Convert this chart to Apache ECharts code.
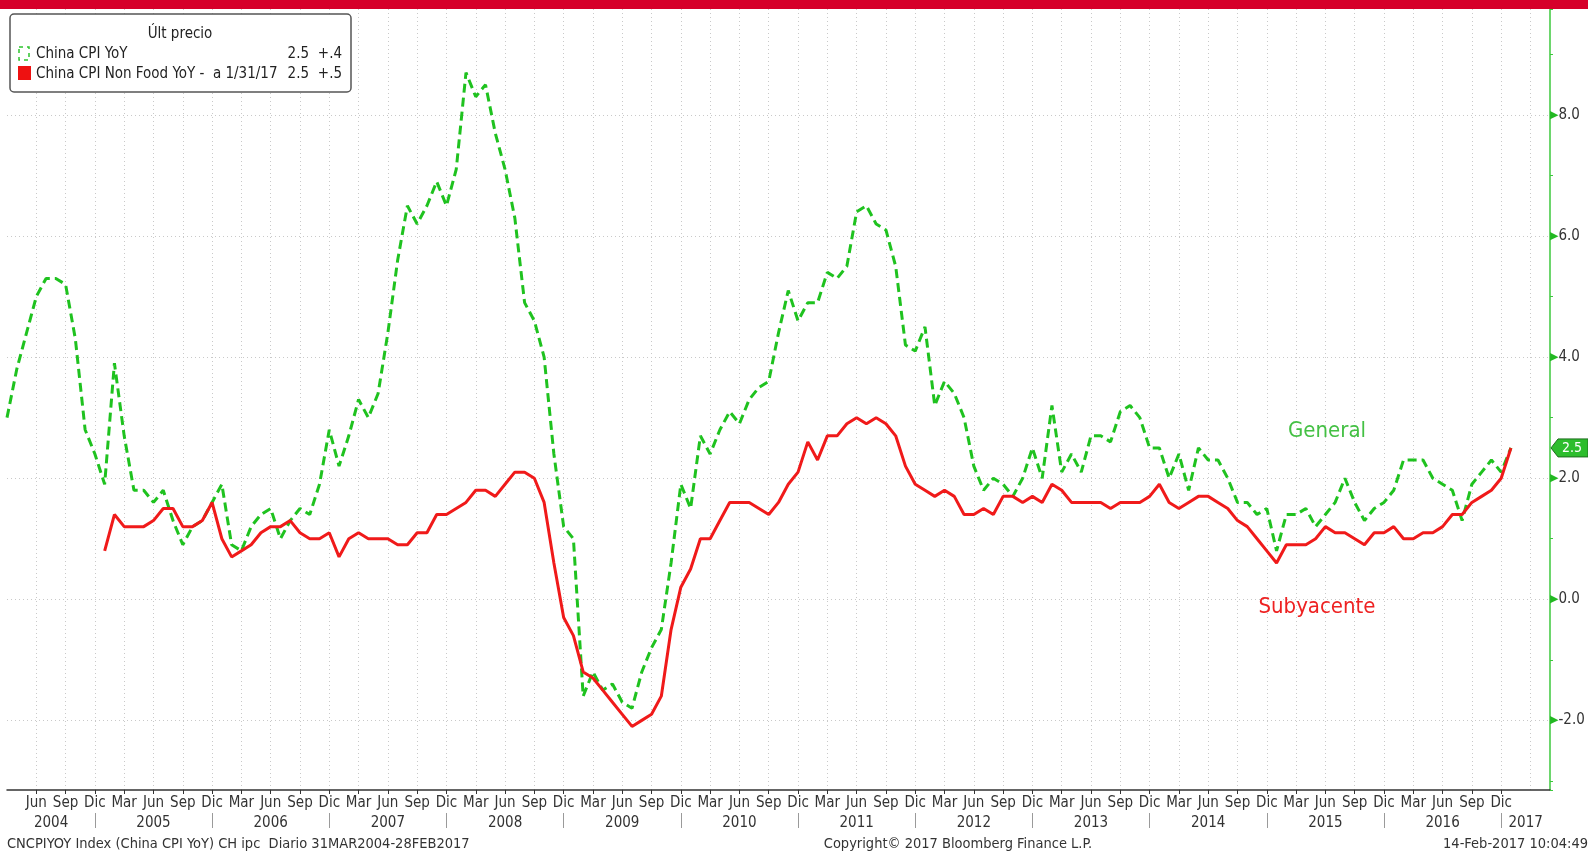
<!DOCTYPE html>
<html>
<head>
<meta charset="utf-8">
<script src="https://cdn.jsdelivr.net/npm/echarts@6/dist/echarts.min.js"></script>
<style>
  html, body { margin: 0; padding: 0; background: #fff; }
  #chart { width: 1588px; height: 852px; }
</style>
</head>
<body>
<div id="chart"></div>
<script>
// meses en castellano, eje mensual desde mar-2004
const monthNames = ['Ene', 'Feb', 'Mar', 'Abr', 'May', 'Jun', 'Jul', 'Ago', 'Sep', 'Oct', 'Nov', 'Dic'];
const firstYear = 2004;
const firstMonth = 2;      // marzo
const axisMonths = 159;    // el eje llega hasta may-2017

// China CPI YoY, mar-2004 .. ene-2017
const cpiYoY = [
  3.0, 3.8, 4.4, 5.0, 5.3, 5.3, 5.2, 4.3, 2.8, 2.4,
  1.9, 3.9, 2.7, 1.8, 1.8, 1.6, 1.8, 1.3, 0.9, 1.2, 1.3, 1.6,
  1.9, 0.9, 0.8, 1.2, 1.4, 1.5, 1.0, 1.3, 1.5, 1.4, 1.9, 2.8,
  2.2, 2.7, 3.3, 3.0, 3.4, 4.4, 5.6, 6.5, 6.2, 6.5, 6.9, 6.5,
  7.1, 8.7, 8.3, 8.5, 7.7, 7.1, 6.3, 4.9, 4.6, 4.0, 2.4, 1.2,
  1.0, -1.6, -1.2, -1.5, -1.4, -1.7, -1.8, -1.2, -0.8, -0.5, 0.6, 1.9,
  1.5, 2.7, 2.4, 2.8, 3.1, 2.9, 3.3, 3.5, 3.6, 4.4, 5.1, 4.6,
  4.9, 4.9, 5.4, 5.3, 5.5, 6.4, 6.5, 6.2, 6.1, 5.5, 4.2, 4.1,
  4.5, 3.2, 3.6, 3.4, 3.0, 2.2, 1.8, 2.0, 1.9, 1.7, 2.0, 2.5,
  2.0, 3.2, 2.1, 2.4, 2.1, 2.7, 2.7, 2.6, 3.1, 3.2, 3.0, 2.5,
  2.5, 2.0, 2.4, 1.8, 2.5, 2.3, 2.3, 2.0, 1.6, 1.6, 1.4, 1.5,
  0.8, 1.4, 1.4, 1.5, 1.2, 1.4, 1.6, 2.0, 1.6, 1.3, 1.5, 1.6,
  1.8, 2.3, 2.3, 2.3, 2.0, 1.9, 1.8, 1.3, 1.9, 2.1, 2.3, 2.1,
  2.5
];

// China CPI Non Food YoY, ene-2005 .. ene-2017
const nonFoodStart = 10;
const cpiNonFoodYoY = [
  0.8, 1.4, 1.2, 1.2, 1.2, 1.3, 1.5, 1.5, 1.2, 1.2, 1.3, 1.6,
  1.0, 0.7, 0.8, 0.9, 1.1, 1.2, 1.2, 1.3, 1.1, 1.0, 1.0, 1.1,
  0.7, 1.0, 1.1, 1.0, 1.0, 1.0, 0.9, 0.9, 1.1, 1.1, 1.4, 1.4,
  1.5, 1.6, 1.8, 1.8, 1.7, 1.9, 2.1, 2.1, 2.0, 1.6, 0.6, -0.3,
  -0.6, -1.2, -1.3, -1.5, -1.7, -1.9, -2.1, -2.0, -1.9, -1.6, -0.5, 0.2,
  0.5, 1.0, 1.0, 1.3, 1.6, 1.6, 1.6, 1.5, 1.4, 1.6, 1.9, 2.1,
  2.6, 2.3, 2.7, 2.7, 2.9, 3.0, 2.9, 3.0, 2.9, 2.7, 2.2, 1.9,
  1.8, 1.7, 1.8, 1.7, 1.4, 1.4, 1.5, 1.4, 1.7, 1.7, 1.6, 1.7,
  1.6, 1.9, 1.8, 1.6, 1.6, 1.6, 1.6, 1.5, 1.6, 1.6, 1.6, 1.7,
  1.9, 1.6, 1.5, 1.6, 1.7, 1.7, 1.6, 1.5, 1.3, 1.2, 1.0, 0.8,
  0.6, 0.9, 0.9, 0.9, 1.0, 1.2, 1.1, 1.1, 1.0, 0.9, 1.1, 1.1,
  1.2, 1.0, 1.0, 1.1, 1.1, 1.2, 1.4, 1.4, 1.6, 1.7, 1.8, 2.0,
  2.5
];

const yLabelValues = [-2, 0, 2, 4, 6, 8];
const yMin = -3.15, yMax = 9.75;

const FONT = '"DejaVu Sans Condensed", "Liberation Sans Narrow", "DejaVu Sans", sans-serif';
const GREEN = '#1fc21f';
const RED = '#f01a1a';

const categories = [];
for (let i = 0; i < axisMonths; i++) {
  const k = firstMonth + i;
  categories.push(monthNames[k % 12] + ' ' + (firstYear + Math.floor(k / 12)));
}
const lastIdx = cpiYoY.length - 1;

const nonFoodData = [];
for (let i = 0; i < nonFoodStart; i++) nonFoodData.push(null);
cpiNonFoodYoY.forEach(v => nonFoodData.push(v));

// separadores de año (diciembre) y centro de cada año
const decIdx = [];
categories.forEach((c, i) => { if (c.startsWith('Dic') && i <= lastIdx) decIdx.push(i); });
const bounds = [0].concat(decIdx, [axisMonths - 1]);
const step = 1543 / (axisMonths - 1);
const yearAt = {};
for (let k = 0; k < bounds.length - 1; k++) {
  const c = (bounds[k] + bounds[k + 1]) / 2;
  const idx = Math.floor(c);
  yearAt[idx] = { year: firstYear + k, half: c - idx > 0.01 };
}

const chart = echarts.init(document.getElementById('chart'), null, { renderer: 'canvas' });

const option = {
  animation: false,
  backgroundColor: '#fff',
  grid: { left: 7, right: 38, top: 9, bottom: 62 },
  xAxis: [{
    type: 'category',
    data: categories,
    boundaryGap: false,
    axisLine: { onZero: false, lineStyle: { color: '#333', width: 1.5 } },
    axisTick: {
      show: true, length: 4,
      interval: (i) => i > 0 && i <= lastIdx && i % 3 === 0,
      lineStyle: { color: '#333' }
    },
    axisLabel: {
      interval: (i) => i > 0 && i <= lastIdx && i % 3 === 0,
      formatter: (v) => v.split(' ')[0],
      color: '#333', fontFamily: FONT, fontSize: 15, margin: 6
    },
    splitLine: {
      show: true,
      interval: (i) => i > 0 && i % 3 === 0,
      lineStyle: { color: '#c9c9c9', type: [1, 3], width: 1 }
    }
  }, {
    type: 'category',
    data: categories,
    boundaryGap: false,
    position: 'bottom',
    offset: 23,
    axisLine: { show: false, onZero: false },
    axisTick: {
      show: true, length: 15,
      interval: (i) => decIdx.indexOf(i) >= 0,
      lineStyle: { color: '#9a9a9a' }
    },
    axisLabel: {
      interval: (i) => yearAt[i] !== undefined,
      margin: 3,
      formatter: (v, i) => {
        const y = yearAt[i];
        if (!y) return '';
        return y.half ? '{h|' + y.year + '}' : '{n|' + y.year + '}';
      },
      rich: {
        n: { color: '#333', fontFamily: FONT, fontSize: 15 },
        h: { color: '#333', fontFamily: FONT, fontSize: 15, padding: [0, 0, 0, Math.round(step)] }
      }
    },
    splitLine: { show: false }
  }],
  yAxis: {
    type: 'value',
    position: 'right',
    min: yMin,
    max: yMax,
    splitNumber: 13,
    axisLine: { show: true, lineStyle: { color: '#3cc83c', width: 1.5 } },
    axisTick: { show: true, length: 3, lineStyle: { color: '#3cc83c' } },
    splitLine: { show: false },
    axisLabel: {
      margin: 0,
      formatter: (v) => {
        const t = yLabelValues.find(x => Math.abs(x - v) < 1e-6);
        return t === undefined ? '' : '{t|▶}{v|' + t.toFixed(1) + '}';
      },
      rich: {
        t: { color: '#22b822', fontSize: 11, fontFamily: 'DejaVu Sans' },
        v: { color: '#333', fontSize: 15, fontFamily: FONT }
      }
    }
  },
  series: [{
    name: 'China CPI YoY',
    type: 'line',
    data: cpiYoY,
    showSymbol: false,
    symbol: 'none',
    lineStyle: { color: GREEN, width: 3, type: [9, 5] },
    itemStyle: { color: GREEN },
    z: 3,
    markLine: {
      silent: true,
      symbol: ['none', 'none'],
      label: { show: false },
      z: 1,
      lineStyle: { color: '#c9c9c9', type: [1, 3], width: 1 },
      data: yLabelValues.map(v => ({ yAxis: v }))
    }
  }, {
    name: 'China CPI Non Food YoY',
    type: 'line',
    data: nonFoodData,
    showSymbol: false,
    symbol: 'none',
    connectNulls: false,
    lineStyle: { color: RED, width: 3 },
    itemStyle: { color: RED },
    z: 4
  }]
};

chart.setOption(option);

function change(arr) {
  const d = Math.round((arr[arr.length - 1] - arr[arr.length - 2]) * 10) / 10;
  return (d >= 0 ? '+' : '-') + Math.abs(d).toFixed(1).replace(/^0/, '');
}
function txt(text, x, y, size, color, align) {
  return {
    type: 'text', x: x, y: y, z: 20,
    style: {
      text: text, fill: color, font: size + 'px ' + FONT,
      textAlign: align || 'left', align: align || 'left',
      textVerticalAlign: 'middle', verticalAlign: 'middle'
    }
  };
}

const lastGen = cpiYoY[cpiYoY.length - 1];
const lastNF = cpiNonFoodYoY[cpiNonFoodYoY.length - 1];
const tagY = chart.convertToPixel({ yAxisIndex: 0 }, lastGen);
const axisX = chart.convertToPixel({ xAxisIndex: 0 }, categories[axisMonths - 1]);

const elements = [
  { type: 'rect', z: 20, shape: { x: 0, y: 0, width: 1588, height: 9 }, style: { fill: '#d6002a' } },
  // leyenda
  { type: 'rect', z: 19, shape: { x: 10, y: 14, width: 341, height: 78, r: 4 },
    style: { fill: '#fff', stroke: '#555', lineWidth: 1.5 } },
  txt('Últ precio', 180, 34, 15, '#222', 'center'),
  { type: 'rect', z: 20, shape: { x: 19, y: 47, width: 10, height: 13 },
    style: { fill: 'none', stroke: '#2ec42e', lineWidth: 1.5, lineDash: [4, 4] } },
  txt('China CPI YoY', 36, 54, 15, '#222'),
  txt(lastGen.toFixed(1), 309, 54, 15, '#222', 'right'),
  txt(change(cpiYoY), 342, 54, 15, '#222', 'right'),
  { type: 'rect', z: 20, shape: { x: 18, y: 66, width: 13, height: 14 }, style: { fill: '#ee1111' } },
  txt('China CPI Non Food YoY -  a 1/31/17', 36, 74, 15, '#222'),
  txt(lastNF.toFixed(1), 309, 74, 15, '#222', 'right'),
  txt(change(cpiNonFoodYoY), 342, 74, 15, '#222', 'right'),
  // anotaciones
  txt('General', 1327, 431, 22, '#44c044', 'center'),
  txt('Subyacente', 1317, 607, 22, '#ee2222', 'center'),
  // etiqueta del último valor
  { type: 'polygon', z: 20,
    shape: { points: [[axisX + 1, tagY], [axisX + 8, tagY - 9], [axisX + 38, tagY - 9], [axisX + 38, tagY + 9], [axisX + 8, tagY + 9]] },
    style: { fill: '#2dbd2d', stroke: '#1d6e1d', lineWidth: 1 } },
  txt(lastGen.toFixed(1), axisX + 22, tagY, 14, '#fff', 'center'),
  // pie
  txt('CNCPIYOY Index (China CPI YoY) CH ipc  Diario 31MAR2004-28FEB2017', 7, 844, 14.5, '#333'),
  txt('Copyright© 2017 Bloomberg Finance L.P.', 958, 844, 14.5, '#333', 'center'),
  txt('14-Feb-2017 10:04:49', 1588, 844, 14.5, '#333', 'right')
];

chart.setOption({ graphic: { elements: elements } });
</script>
</body>
</html>
